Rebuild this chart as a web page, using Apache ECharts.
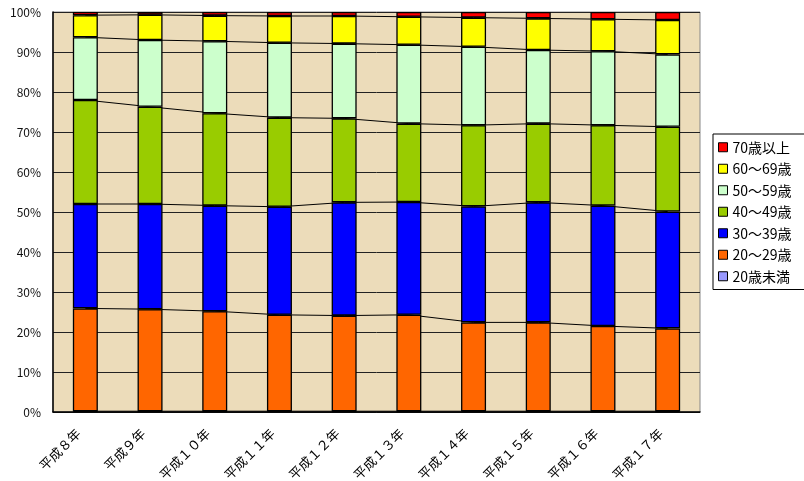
<!DOCTYPE html>
<html>
<head>
<meta charset="utf-8">
<script src="https://cdn.jsdelivr.net/npm/echarts@6/dist/echarts.min.js"></script>
<style>
html,body{margin:0;padding:0;background:#fff;}
#c{width:804px;height:481px;}
</style>
</head>
<body>
<div id="c"></div>
<script>
const categories = ['平成８年','平成９年','平成１０年','平成１１年','平成１２年','平成１３年','平成１４年','平成１５年','平成１６年','平成１７年'];
const seriesNames = ['20歳未満','20～29歳','30～39歳','40～49歳','50～59歳','60～69歳','70歳以上'];
const under20 = [0.2,0.2,0.2,0.2,0.2,0.2,0.2,0.2,0.2,0.2];
const age20s = [25.7,25.5,25.0,24.1,23.9,24.1,22.2,22.2,21.3,20.7];
const age30s = [26.1,26.3,26.4,27.0,28.3,28.2,29.0,30.0,30.1,29.2];
const age40s = [26.0,24.3,23.1,22.3,21.0,19.6,20.3,19.7,20.1,21.2];
const age50s = [15.7,16.7,18.0,18.7,18.7,19.7,19.6,18.4,18.5,18.1];
const age60s = [5.5,6.3,6.4,6.7,6.9,7.0,7.3,7.9,8.0,8.6];
const age70plus = [0.8,0.7,0.9,1.0,1.0,1.2,1.4,1.6,1.8,2.0];
const yTicks = [0,10,20,30,40,50,60,70,80,90,100];

const values = [under20, age20s, age30s, age40s, age50s, age60s, age70plus];
const colors = ['#9999FF','#FF6600','#0000FF','#99CC00','#CCFFCC','#FFFF00','#FF0000'];
const font = '"Noto Sans CJK JP", "Noto Sans", sans-serif';

const series = [];
values.forEach((v, i) => {
  series.push({
    name: seriesNames[i], type: 'bar', stack: 'bars', data: v, barWidth: 25,
    itemStyle: { color: colors[i], borderColor: '#000', borderWidth: 1.3 },
    z: 3, silent: true
  });
});
values.slice(0, 6).forEach((v, i) => {
  series.push({
    name: 'line' + i, type: 'line', stack: 'lines', data: v,
    showSymbol: false, symbol: 'none', silent: true,
    lineStyle: { color: '#000', width: 1 }, z: 1
  });
});

const chart = echarts.init(document.getElementById('c'));
chart.setOption({
  animation: false,
  backgroundColor: '#fff',
  grid: { left: 53, right: 104, top: 12, bottom: 69, show: true, outerBoundsMode: 'none', containLabel: false,
          backgroundColor: '#ECDCBA', borderColor: '#888', borderWidth: 1 },
  legend: {
    orient: 'vertical', left: 713, top: 134,
    data: seriesNames.slice().reverse(),
    itemWidth: 9, itemHeight: 9, itemGap: 7,
    icon: 'rect',
    textStyle: { fontFamily: font, fontSize: 14, color: '#000', lineHeight: 14.5 },
    borderColor: '#000', borderWidth: 1, padding: [6, 30, 6, 5],
    itemStyle: { borderColor: '#000', borderWidth: 1 }
  },
  xAxis: {
    type: 'category', data: categories,
    axisLine: { lineStyle: { color: '#000', width: 1.5 } },
    axisTick: { inside: true, length: 4, lineStyle: { color: '#444' } },
    axisLabel: { rotate: 45, margin: 12, padding: [0, 10, 0, 0], fontFamily: font, fontSize: 13, color: '#000', interval: 0 }
  },
  yAxis: {
    type: 'value', min: yTicks[0], max: yTicks[yTicks.length - 1], interval: 10,
    axisLine: { show: true, lineStyle: { color: '#000', width: 1.5 } },
    axisTick: { show: false },
    axisLabel: { formatter: '{value}%', margin: 12, fontFamily: font, fontSize: 12, color: '#111' },
    splitLine: { lineStyle: { color: '#222', width: 1 } }
  },
  series: series
});
</script>
</body>
</html>
